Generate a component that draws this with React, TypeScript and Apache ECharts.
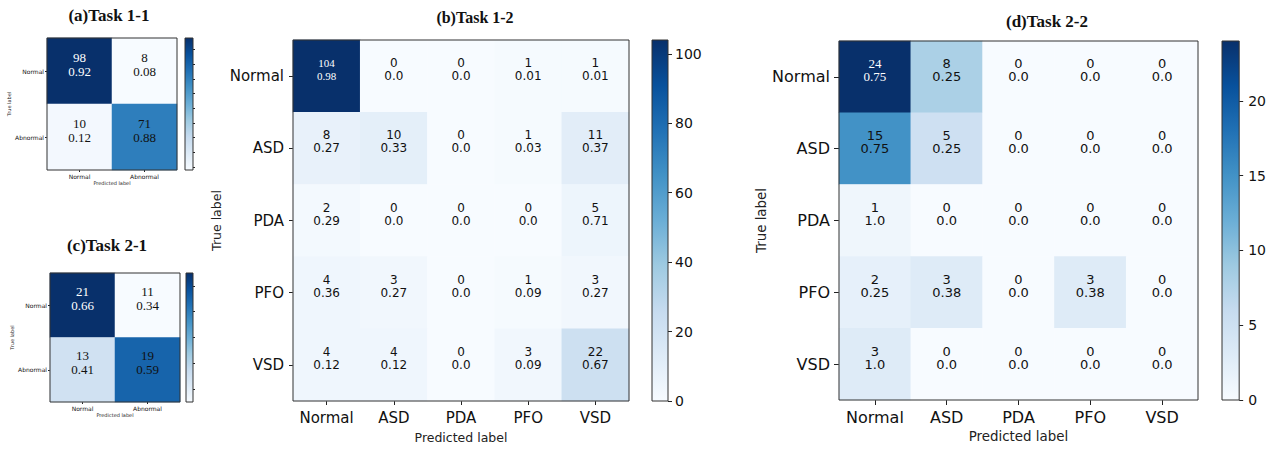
import React, { useEffect, useRef } from 'react';
import * as echarts from 'echarts';

// ---------- data ----------
const binaryLabels = ['Normal', 'Abnormal'];
const multiLabels = ['Normal', 'ASD', 'PDA', 'PFO', 'VSD'];

const task11Counts = [
  [98, 8],
  [10, 71],
];
const task11Ratios = [
  ['0.92', '0.08'],
  ['0.12', '0.88'],
];
const task11Ticks = [10, 20, 30, 40, 50, 60, 70, 80, 90];

const task21Counts = [
  [21, 11],
  [13, 19],
];
const task21Ratios = [
  ['0.66', '0.34'],
  ['0.41', '0.59'],
];
const task21Ticks = [12, 14, 16, 18, 20];

const task12Counts = [
  [104, 0, 0, 1, 1],
  [8, 10, 0, 1, 11],
  [2, 0, 0, 0, 5],
  [4, 3, 0, 1, 3],
  [4, 4, 0, 3, 22],
];
const task12Ratios = [
  ['0.98', '0.0', '0.0', '0.01', '0.01'],
  ['0.27', '0.33', '0.0', '0.03', '0.37'],
  ['0.29', '0.0', '0.0', '0.0', '0.71'],
  ['0.36', '0.27', '0.0', '0.09', '0.27'],
  ['0.12', '0.12', '0.0', '0.09', '0.67'],
];
const task12Ticks = [0, 20, 40, 60, 80, 100];

const task22Counts = [
  [24, 8, 0, 0, 0],
  [15, 5, 0, 0, 0],
  [1, 0, 0, 0, 0],
  [2, 3, 0, 3, 0],
  [3, 0, 0, 0, 0],
];
const task22Ratios = [
  ['0.75', '0.25', '0.0', '0.0', '0.0'],
  ['0.75', '0.25', '0.0', '0.0', '0.0'],
  ['1.0', '0.0', '0.0', '0.0', '0.0'],
  ['0.25', '0.38', '0.0', '0.38', '0.0'],
  ['1.0', '0.0', '0.0', '0.0', '0.0'],
];
const task22Ticks = [0, 5, 10, 15, 20];

const BLUES = ['#f7fbff', '#deebf7', '#c6dbef', '#9ecae1', '#6baed6', '#4292c6', '#2171b5', '#08519c', '#08306b'];

const SANS = 'DejaVu Sans';
const SERIF = 'Liberation Serif';
const INK = '#111';

type Panel = {
  title: string;
  titleX: number;
  titleY: number;
  titleSize: number;
  cats: string[];
  counts: number[][];
  ratios: string[][];
  ticks: number[];
  grid: { left: number; top: number; width: number; height: number };
  bar: { left: number; top: number; width: number; height: number };
  tickFont: number;
  nameFont: number;
  cellFont: number;
  cellLH: number;
  cellSerif: boolean;
  maxFont: number;
  labelMargin: number;
  tickLen: number;
  nameGapX: number;
  nameGapY: number;
  barLabels: boolean;
  barLabelFont: number;
  barLabelMargin: number;
  barTickLen: number;
};

const panels: Panel[] = [
  {
    title: '(a)Task 1-1', titleX: 109, titleY: 15, titleSize: 17,
    cats: binaryLabels, counts: task11Counts, ratios: task11Ratios, ticks: task11Ticks,
    grid: { left: 47, top: 38, width: 130, height: 132 },
    bar: { left: 185, top: 38, width: 8, height: 132 },
    tickFont: 6, nameFont: 5, cellFont: 13, cellLH: 14, cellSerif: true, maxFont: 13,
    labelMargin: 3, tickLen: 2, nameGapX: 10, nameGapY: 32,
    barLabels: false, barLabelFont: 5, barLabelMargin: 3, barTickLen: 2,
  },
  {
    title: '(b)Task 1-2', titleX: 475, titleY: 17, titleSize: 16,
    cats: multiLabels, counts: task12Counts, ratios: task12Ratios, ticks: task12Ticks,
    grid: { left: 293, top: 40, width: 336, height: 361 },
    bar: { left: 652, top: 40, width: 16, height: 361 },
    tickFont: 15, nameFont: 12.5, cellFont: 12, cellLH: 13, cellSerif: false, maxFont: 11,
    labelMargin: 9, tickLen: 4, nameGapX: 30, nameGapY: 70,
    barLabels: true, barLabelFont: 14, barLabelMargin: 7, barTickLen: 4,
  },
  {
    title: '(c)Task 2-1', titleX: 107, titleY: 245, titleSize: 17,
    cats: binaryLabels, counts: task21Counts, ratios: task21Ratios, ticks: task21Ticks,
    grid: { left: 50, top: 273, width: 130, height: 129 },
    bar: { left: 186, top: 273, width: 7, height: 129 },
    tickFont: 6, nameFont: 5, cellFont: 13, cellLH: 14, cellSerif: true, maxFont: 13,
    labelMargin: 3, tickLen: 2, nameGapX: 10, nameGapY: 32,
    barLabels: false, barLabelFont: 5, barLabelMargin: 3, barTickLen: 2,
  },
  {
    title: '(d)Task 2-2', titleX: 1047, titleY: 21, titleSize: 17,
    cats: multiLabels, counts: task22Counts, ratios: task22Ratios, ticks: task22Ticks,
    grid: { left: 839, top: 41, width: 359, height: 359 },
    bar: { left: 1222, top: 41, width: 18, height: 359 },
    tickFont: 16, nameFont: 13.4, cellFont: 13, cellLH: 13, cellSerif: false, maxFont: 13,
    labelMargin: 9, tickLen: 5, nameGapX: 30, nameGapY: 67,
    barLabels: true, barLabelFont: 14, barLabelMargin: 9, barTickLen: 4,
  },
];

function buildOption() {
  const title: any[] = [];
  const grid: any[] = [];
  const xAxis: any[] = [];
  const yAxis: any[] = [];
  const series: any[] = [];
  const visualMap: any[] = [];

  const gradientStops = BLUES.map((c, i) => ({ offset: i / (BLUES.length - 1), color: c }));

  panels.forEach((p, pi) => {
    const flat = p.counts.flat();
    const vMin = Math.min(...flat);
    const vMax = Math.max(...flat);
    const gi = pi * 2;

    title.push({
      text: p.title,
      left: p.titleX,
      top: p.titleY,
      textAlign: 'center',
      textVerticalAlign: 'middle',
      padding: 0,
      textStyle: { fontFamily: SERIF, fontWeight: 'bold', fontSize: p.titleSize, color: INK },
    });

    grid.push({ ...p.grid, show: true, borderColor: '#333', borderWidth: 1, backgroundColor: 'transparent', z: 5 });
    grid.push({ ...p.bar, show: true, borderColor: '#333', borderWidth: 1, backgroundColor: 'transparent', z: 5 });

    xAxis.push({
      type: 'category',
      gridIndex: gi,
      data: p.cats,
      position: 'bottom',
      axisLine: { show: false },
      axisTick: { show: true, alignWithLabel: true, length: p.tickLen, lineStyle: { color: '#222', width: 1 } },
      axisLabel: { fontFamily: SANS, fontSize: p.tickFont, color: INK, margin: p.labelMargin, interval: 0 },
      splitLine: { show: false },
      name: 'Predicted label',
      nameLocation: 'middle',
      nameGap: p.nameGapX,
      nameTextStyle: { fontFamily: SANS, fontSize: p.nameFont, color: '#222' },
    });
    yAxis.push({
      type: 'category',
      gridIndex: gi,
      data: p.cats,
      inverse: true,
      axisLine: { show: false },
      axisTick: { show: true, alignWithLabel: true, length: p.tickLen, lineStyle: { color: '#222', width: 1 } },
      axisLabel: { fontFamily: SANS, fontSize: p.tickFont, color: INK, margin: p.labelMargin, interval: 0 },
      splitLine: { show: false },
      name: 'True label',
      nameLocation: 'middle',
      nameGap: p.nameGapY,
      nameTextStyle: { fontFamily: SANS, fontSize: p.nameFont, color: '#222' },
    });

    // colorbar axes
    xAxis.push({
      type: 'category',
      gridIndex: gi + 1,
      data: ['cb'],
      show: false,
    });
    yAxis.push({
      type: 'value',
      gridIndex: gi + 1,
      position: 'right',
      min: vMin,
      max: vMax,
      axisLine: { show: false },
      splitLine: { show: false },
      axisTick: {
        show: true,
        inside: false,
        length: p.barTickLen,
        customValues: p.ticks,
        lineStyle: { color: '#222', width: 1 },
      },
      axisLabel: {
        show: p.barLabels,
        customValues: p.ticks,
        fontFamily: SANS,
        fontSize: p.barLabelFont,
        color: INK,
        margin: p.barLabelMargin,
      },
    });

    const data: any[] = [];
    p.counts.forEach((row, r) => {
      row.forEach((v, c) => {
        const isMax = v === vMax;
        const serif = p.cellSerif || isMax;
        data.push({
          value: [c, r, v],
          label: {
            color: isMax ? '#fff' : INK,
            fontFamily: serif ? SERIF : SANS,
            fontSize: isMax ? p.maxFont : p.cellFont,
          },
        });
      });
    });

    const heatIndex = series.length;
    series.push({
      type: 'heatmap',
      xAxisIndex: gi,
      yAxisIndex: gi,
      data,
      itemStyle: { borderWidth: 0 },
      label: {
        show: true,
        lineHeight: p.cellLH,
        offset: [0, -p.cellLH / 2],
        formatter: (prm: any) => {
          const [c, r] = prm.value;
          return `${p.counts[r][c]}\n${p.ratios[r][c]}`;
        },
      },
      emphasis: { disabled: true },
    });
    visualMap.push({
      type: 'continuous',
      show: false,
      seriesIndex: heatIndex,
      dimension: 2,
      min: vMin,
      max: vMax,
      inRange: { color: BLUES },
    });

    series.push({
      type: 'bar',
      xAxisIndex: gi + 1,
      yAxisIndex: gi + 1,
      stack: 'cb' + pi,
      barWidth: '100%',
      data: [vMin],
      itemStyle: { color: 'rgba(0,0,0,0)' },
      silent: true,
    });
    series.push({
      type: 'bar',
      xAxisIndex: gi + 1,
      yAxisIndex: gi + 1,
      stack: 'cb' + pi,
      barWidth: '100%',
      data: [vMax - vMin],
      itemStyle: { color: new echarts.graphic.LinearGradient(0, 1, 0, 0, gradientStops) },
      silent: true,
    });
  });

  return {
    animation: false,
    backgroundColor: '#ffffff',
    title,
    grid,
    xAxis,
    yAxis,
    visualMap,
    series,
  };
}

export default function App() {
  const ref = useRef<HTMLDivElement>(null);
  useEffect(() => {
    if (!ref.current) return;
    const chart = echarts.init(ref.current, undefined, { renderer: 'svg' });
    chart.setOption(buildOption() as any);
    return () => chart.dispose();
  }, []);
  return (
    <div
      ref={ref}
      style={{ position: 'absolute', left: 0, top: 0, width: 1269, height: 449 }}
    />
  );
}
